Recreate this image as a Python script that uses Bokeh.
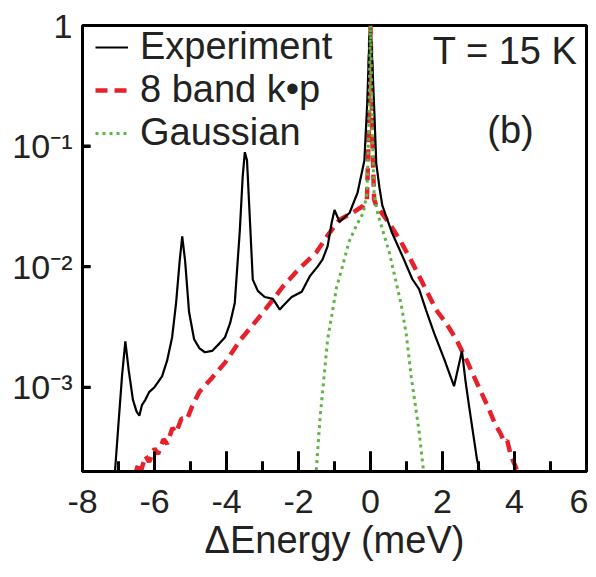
import math
from bokeh.plotting import figure
from bokeh.models import Range1d, FixedTicker, Legend, LegendItem, Label
from bokeh.embed import file_html
from bokeh.resources import INLINE

# ---- data ----
exp_x = [-7.11, -7.0, -6.9, -6.81, -6.72, -6.6, -6.5, -6.42, -6.35, -6.25, -6.15, -6.0,
         -5.79, -5.65, -5.51, -5.4, -5.3, -5.23, -5.15, -5.04, -4.9, -4.75, -4.6, -4.4,
         -4.2, -4.04, -3.9, -3.77, -3.63, -3.55, -3.49, -3.43, -3.35, -3.27, -3.13, -2.94,
         -2.71, -2.52, -2.44, -2.19, -1.91, -1.69, -1.47, -1.33, -1.19, -1.08, -1.0, -0.86,
         -0.58, -0.36, -0.17, -0.09, -0.03, 0.0, 0.05, 0.11, 0.16, 0.25, 0.33, 0.6, 0.9,
         1.16, 1.35, 1.55, 1.77, 2.05, 2.32, 2.54, 2.64, 2.74, 2.96, 3.15]
exp_y = [1.78e-4, 5.0e-4, 1.26e-3, 2.4e-3, 1.41e-3, 7.9e-4, 6.3e-4, 5.8e-4, 7.1e-4, 7.9e-4, 9.1e-4, 1.0e-3,
         1.23e-3, 1.66e-3, 2.6e-3, 5.0e-3, 1.12e-2, 1.78e-2, 1.12e-2, 4.2e-3, 2.5e-3, 2.1e-3, 1.95e-3, 2.0e-3,
         2.3e-3, 2.6e-3, 3.4e-3, 5.0e-3, 2.0e-2, 5.6e-2, 8.9e-2, 7.6e-2, 2.45e-2, 7.8e-3, 6.3e-3, 5.6e-3,
         5.4e-3, 4.4e-3, 4.7e-3, 5.6e-3, 6.2e-3, 8.3e-3, 1.0e-2, 1.15e-2, 1.48e-2, 2.3e-2, 2.95e-2, 2.35e-2,
         2.8e-2, 4.1e-2, 7.6e-2, 0.23, 0.79, 1.0, 0.5, 0.18, 7.2e-2, 4.5e-2, 3.2e-2, 1.9e-2, 1.2e-2,
         7.9e-3, 6.5e-3, 4.3e-3, 2.8e-3, 1.7e-3, 1.02e-3, 2.0e-3, 1.12e-3, 6.9e-4, 2.5e-4, 1.4e-4]

kp_x = [-6.56, -6.45, -6.38, -6.25, -6.15, -6.0, -5.9, -5.75, -5.65, -5.5, -5.4, -5.25, -5.1,
        -4.95, -4.76, -4.4, -4.04, -3.6, -3.3, -2.9, -2.44, -2.0, -1.5, -1.2, -0.86, -0.5,
        -0.2, -0.1, -0.05, -0.02, 0.0, 0.02, 0.05, 0.1, 0.16, 0.52, 0.85, 1.16, 1.5, 1.82,
        2.1, 2.38, 2.7, 3.01, 3.25, 3.48, 3.6, 3.72, 3.8, 3.9, 4.03, 4.15]
kp_y = [1.8e-4, 2.3e-4, 2.0e-4, 2.7e-4, 2.4e-4, 3.1e-4, 2.8e-4, 3.7e-4, 3.4e-4, 4.6e-4, 4.2e-4, 5.5e-4, 5.4e-4,
        7.0e-4, 9.1e-4, 1.2e-3, 1.6e-3, 2.5e-3, 3.2e-3, 4.5e-3, 6.8e-3, 9.5e-3, 1.32e-2, 1.8e-2, 2.45e-2, 2.8e-2,
        3.2e-2, 3.6e-2, 0.12, 0.5, 1.0, 0.5, 0.12, 3.6e-2, 3.2e-2, 2.3e-2, 1.6e-2, 1.08e-2, 6.8e-3, 4.4e-3,
        3.4e-3, 2.5e-3, 1.6e-3, 1.0e-3, 7.0e-4, 4.8e-4, 4.2e-4, 3.5e-4, 3.6e-4, 2.7e-4, 2.2e-4, 1.7e-4]

gauss_x = [-1.52, -1.4, -1.19, -0.94, -0.78, -0.6, -0.39, -0.2, -0.1, -0.05, -0.02, 0.0,
           0.02, 0.05, 0.1, 0.2, 0.52, 0.85, 0.99, 1.13, 1.35, 1.49]
gauss_y = [1.8e-4, 5.6e-4, 2.5e-3, 6.8e-3, 1.0e-2, 1.6e-2, 2.2e-2, 2.8e-2, 4.0e-2, 0.126, 0.5, 1.0,
           0.5, 0.126, 4.0e-2, 2.75e-2, 1.32e-2, 4.9e-3, 2.8e-3, 1.23e-3, 4.3e-4, 1.8e-4]

x_ticks = [-8, -6, -4, -2, 0, 2, 4, 6]
x_tick_labels = ["-8", "-6", "-4", "-2", "0", "2", "4", "6"]
x_minor_ticks = [-7, -5, -3, -1, 1, 3, 5]
y_ticks = [1e-3, 1e-2, 1e-1, 1.0]
y_tick_labels = ["10\u207b\u00b3", "10\u207b\u00b2", "10\u207b\u00b9", "1"]

series_labels = ["Experiment", "8 band k\u2022p", "Gaussian"]
x_label = "\u0394Energy (meV)"
temp_text = "T = 15 K"
panel_text = "(b)"

X_MIN, X_MAX = -8, 6
Y_MIN, Y_MAX = 2e-4, 1.0

FONT = "Liberation Sans"
RED = "#e8202a"
GREEN = "#5db542"
TXT = "#222222"

FW, FH = 504, 446
MAJOR_LEN, MINOR_LEN, YTICK_LEN = 20, 10, 8   # tick lengths in pixels

p = figure(frame_width=FW, frame_height=FH, y_axis_type="log",
           x_range=Range1d(X_MIN, X_MAX), y_range=Range1d(Y_MIN, Y_MAX),
           output_backend="svg", toolbar_location=None,
           min_border_left=82, min_border_right=2, min_border_top=25, min_border_bottom=100)
p.grid.visible = False
p.outline_line_color = "black"
p.outline_line_width = 3

# inward tick marks, drawn first as short line glyphs (pixel lengths converted through the ranges)
decades = math.log10(Y_MAX / Y_MIN)
y_below = Y_MIN / 10
y_major_top = Y_MIN * 10 ** (MAJOR_LEN / FH * decades)
y_minor_top = Y_MIN * 10 ** (MINOR_LEN / FH * decades)
x_left = X_MIN - 1
x_ytick_end = X_MIN + YTICK_LEN / FW * (X_MAX - X_MIN)
for t in x_ticks:
    p.line([t, t], [y_below, y_major_top], line_color="black", line_width=3)
for t in x_minor_ticks:
    p.line([t, t], [y_below, y_minor_top], line_color="black", line_width=3)
for t in y_ticks:
    p.line([x_left, x_ytick_end], [t, t], line_color="black", line_width=3)

r_kp = p.line(kp_x, kp_y, line_color=RED, line_width=4.5, line_dash="12 7")
r_exp = p.line(exp_x, exp_y, line_color="black", line_width=2.2)
r_g = p.line(gauss_x, gauss_y, line_color=GREEN, line_width=3, line_dash="3 4")

xa = p.xaxis[0]
xa.ticker = FixedTicker(ticks=x_ticks, minor_ticks=x_minor_ticks)
xa.major_label_overrides = {t: l for t, l in zip(x_ticks, x_tick_labels)}
xa.major_tick_in = MAJOR_LEN
xa.major_tick_out = 0
xa.minor_tick_in = MINOR_LEN
xa.minor_tick_out = 0
xa.major_tick_line_width = 3
xa.minor_tick_line_width = 3
xa.axis_line_width = 3
xa.major_label_text_font = FONT
xa.major_label_text_font_size = "34px"
xa.major_label_text_color = TXT
xa.major_label_standoff = 18
xa.axis_label = x_label
xa.axis_label_text_font = FONT
xa.axis_label_text_font_size = "38px"
xa.axis_label_text_font_style = "normal"
xa.axis_label_text_color = TXT
xa.axis_label_standoff = 3

ya = p.yaxis[0]
ya.ticker = FixedTicker(ticks=y_ticks, minor_ticks=[])
ya.major_label_overrides = {t: l for t, l in zip(y_ticks, y_tick_labels)}
ya.major_tick_in = YTICK_LEN
ya.major_tick_out = 0
ya.major_tick_line_width = 3
ya.axis_line_width = 3
ya.major_label_text_font = FONT
ya.major_label_text_font_size = "34px"
ya.major_label_text_color = TXT
ya.major_label_standoff = 10

legend = Legend(items=[LegendItem(label=series_labels[0], renderers=[r_exp]),
                       LegendItem(label=series_labels[1], renderers=[r_kp]),
                       LegendItem(label=series_labels[2], renderers=[r_g])],
                location=(13, FH - 1 - 128), padding=0, margin=0, spacing=0,
                glyph_width=33, glyph_height=42, label_height=42, label_standoff=12,
                label_text_font=FONT, label_text_font_size="38px", label_text_color=TXT,
                border_line_color=None, background_fill_alpha=0)
p.add_layout(legend)

p.add_layout(Label(x=5.75, y=0.61, text=temp_text, text_align="right", text_baseline="middle",
                   text_font=FONT, text_font_size="38px", text_color=TXT))
p.add_layout(Label(x=3.89, y=0.135, text=panel_text, text_align="center", text_baseline="middle",
                   text_font=FONT, text_font_size="38px", text_color=TXT))

open("out.html", "w").write(file_html(p, INLINE))
